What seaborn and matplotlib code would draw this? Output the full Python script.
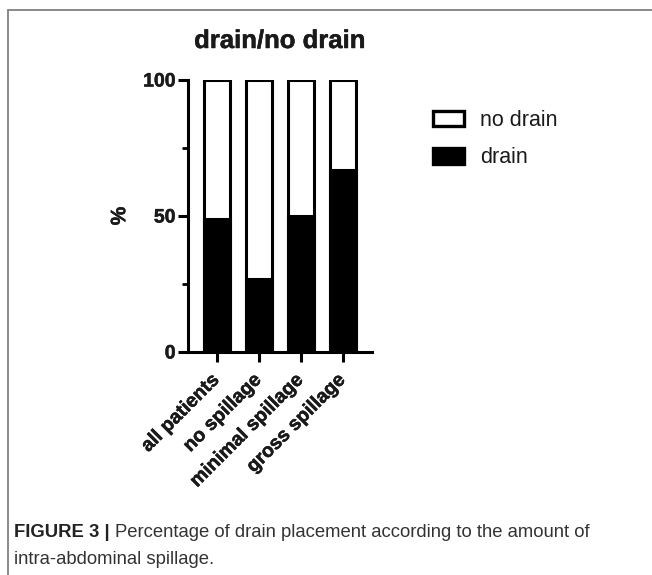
import numpy as np
import pandas as pd
import matplotlib
matplotlib.use("Agg")
import matplotlib.pyplot as plt
import matplotlib.transforms as mtransforms
import matplotlib.patheffects as pe
import seaborn as sns
from matplotlib.patches import Patch
from matplotlib.lines import Line2D
from matplotlib.ticker import MultipleLocator

categories = ["all patients", "no spillage", "minimal spillage", "gross spillage"]
drain_pct = [49, 27, 50, 67]
no_drain_pct = [51, 73, 50, 33]
series_names = ["no drain", "drain"]
title = "drain/no drain"
ylabel = "%"
caption_bold = "FIGURE 3 |"
caption_line1 = "Percentage of drain placement according to the amount of"
caption_line2 = "intra-abdominal spillage."

sns.set_theme(style="ticks")
plt.rcParams["font.family"] = ["Liberation Sans", "DejaVu Sans"]

df = pd.DataFrame({
    "category": categories,
    "drain": drain_pct,
    "total": [d + n for d, n in zip(drain_pct, no_drain_pct)],
})

fig = plt.figure(figsize=(6.52, 5.75), dpi=100)
ax = fig.add_axes([188/652, 1-352/575, (372-188)/652, (352-80)/575])

lw = 2.2
sns.barplot(data=df, x="category", y="total", color="white", edgecolor="black",
            linewidth=lw, width=0.62, ax=ax, saturation=1)
sns.barplot(data=df, x="category", y="drain", color="black", edgecolor="black",
            linewidth=lw, width=0.62, ax=ax, saturation=1)

heavy = [pe.withStroke(linewidth=0.35, foreground="#1a1a1a")]

ax.set_xlim(-0.69, 3.69)
ax.set_ylim(0, 100)
ax.set_yticks([0, 50, 100])
ax.yaxis.set_minor_locator(MultipleLocator(25))
sns.despine(ax=ax)
for s in ["left", "bottom"]:
    ax.spines[s].set_linewidth(2.2)
    ax.spines[s].set_color("black")
ax.tick_params(axis="both", which="major", length=7, width=2.2, color="black",
               labelsize=14, pad=2)
ax.tick_params(axis="y", which="minor", length=4.3, width=2.0, color="black")
ax.set_xticks(range(len(categories)))
ax.set_xticklabels(categories, rotation=45, ha="right", rotation_mode="anchor",
                   fontweight="bold", fontsize=14, color="#1a1a1a")
offset = mtransforms.ScaledTranslation(-0.06, -0.07, fig.dpi_scale_trans)
for lab in ax.get_xticklabels():
    lab.set_transform(lab.get_transform() + offset)
    lab.set_path_effects(heavy)
for lab in ax.get_yticklabels():
    lab.set_fontweight("bold")
    lab.set_color("#1a1a1a")
    lab.set_path_effects(heavy)
ax.set_xlabel("")
ax.set_ylabel(ylabel, fontsize=15, fontweight="bold", color="#1a1a1a", labelpad=10)
ax.yaxis.label.set_path_effects(heavy)
ax.patch.set_alpha(0)

fig.text(280/652, 1-48/575, title, fontsize=18.5, fontweight="bold", color="#1a1a1a",
         ha="center", va="baseline", path_effects=heavy)

handles = [Patch(facecolor="white", edgecolor="black", linewidth=2.4, label=series_names[0]),
           Patch(facecolor="black", edgecolor="black", linewidth=2.4, label=series_names[1])]
fig.legend(handles=handles, loc="upper left", bbox_to_anchor=(433/652, 1-110/575),
           frameon=False, fontsize=15.5, handlelength=1.45, handleheight=0.75,
           labelspacing=0.75, handletextpad=0.72, borderpad=0, borderaxespad=0,
           labelcolor="#1a1a1a")

# frame lines
fig.add_artist(Line2D([8/652, 8/652], [0, 1-10/575], transform=fig.transFigure,
                      color="#808080", linewidth=1.3))
fig.add_artist(Line2D([8/652, 1], [1-10/575, 1-10/575], transform=fig.transFigure,
                      color="#808080", linewidth=1.3))

# caption
cap_fs = 13.3
t1 = fig.text(14/652, 1-537/575, caption_bold, fontsize=cap_fs, fontweight="bold",
              color="#222222", va="baseline", ha="left")
fig.canvas.draw()
r = fig.canvas.get_renderer()
bb = t1.get_window_extent(renderer=r)
x2 = (bb.x1 + 5) / fig.bbox.width
fig.text(x2, 1-537/575, caption_line1, fontsize=cap_fs, color="#333333",
         va="baseline", ha="left")
fig.text(14/652, 1-564/575, caption_line2, fontsize=cap_fs, color="#333333",
         va="baseline", ha="left")

fig.savefig("out.png", dpi=100)
